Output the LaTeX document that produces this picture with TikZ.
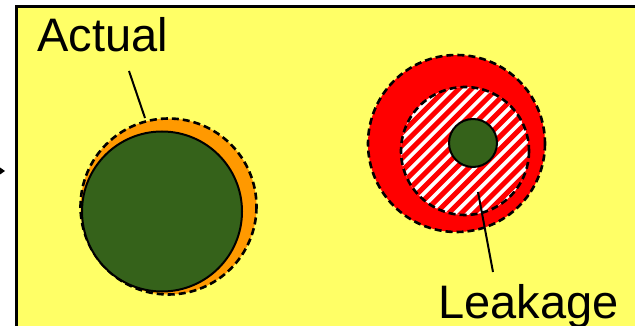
\documentclass[tikz,border=0pt]{standalone}
\usepackage{fontspec}
\setmainfont{Liberation Sans}
\definecolor{bgyellow}{RGB}{255,255,102}
\definecolor{leafgreen}{RGB}{53,98,26}
\definecolor{ringorange}{RGB}{255,153,0}
\definecolor{ringred}{RGB}{255,0,0}
\tikzset{
  dashring/.style={draw=black, line width=2.6pt, dash pattern=on 7pt off 4pt},
  solidring/.style={draw=black, line width=2pt},
  bigtext/.style={font=\fontsize{47}{50}\selectfont, inner sep=0pt, anchor=base west},
  leader/.style={draw=black, line width=2pt}
}
\begin{document}
\begin{tikzpicture}[x=1pt,y=-1pt]
\useasboundingbox (0,0) rectangle (635,326);
\begin{scope}
\clip (0,0) rectangle (635,326);
\filldraw[fill=bgyellow, draw=black, line width=2.8pt] (16.5,6.5) rectangle (660,345);
\end{scope}
% small arrow tip at left edge
\coordinate (tip) at (5,171);
\fill[black] (tip) -- ++(-5,-3.5) -- ++(0,7) -- cycle;

% left: actual
\fill[ringorange] (168.5,206.5) circle (88);
\draw[dashring] (168.5,206.5) circle (88);
\node[circle, fill=leafgreen, solidring, minimum size=160pt, inner sep=0pt] (core) at (162,211.5) {};
\node[bigtext] (actual) at (37,52) {Actual};
\coordinate (aTop) at (129,71);
\coordinate (aBot) at (145,118);
\draw[leader] (aTop) -- (aBot);

% right: leakage
\fill[ringred] (456.5,143.5) circle (88.5);
\draw[dashring] (456.5,143.5) circle (88.5);
\begin{scope}
\clip (465,151) circle (64);
\fill[white] (465,151) circle (64);
\foreach \i in {-170,-157.3,...,170}
  \draw[ringred, line width=5pt] (465+\i-100,151+100) -- (465+\i+100,151-100);
\end{scope}
\draw[dashring] (465,151) circle (64);
\node[circle, fill=leafgreen, solidring, minimum size=48pt, inner sep=0pt] (seed) at (473,143) {};
\node[bigtext] (leak) at (438,318) {Leakage};
\coordinate (lTop) at (478,192);
\coordinate (lBot) at (493,272);
\draw[leader] (lTop) -- (lBot);
\end{tikzpicture}
\end{document}
